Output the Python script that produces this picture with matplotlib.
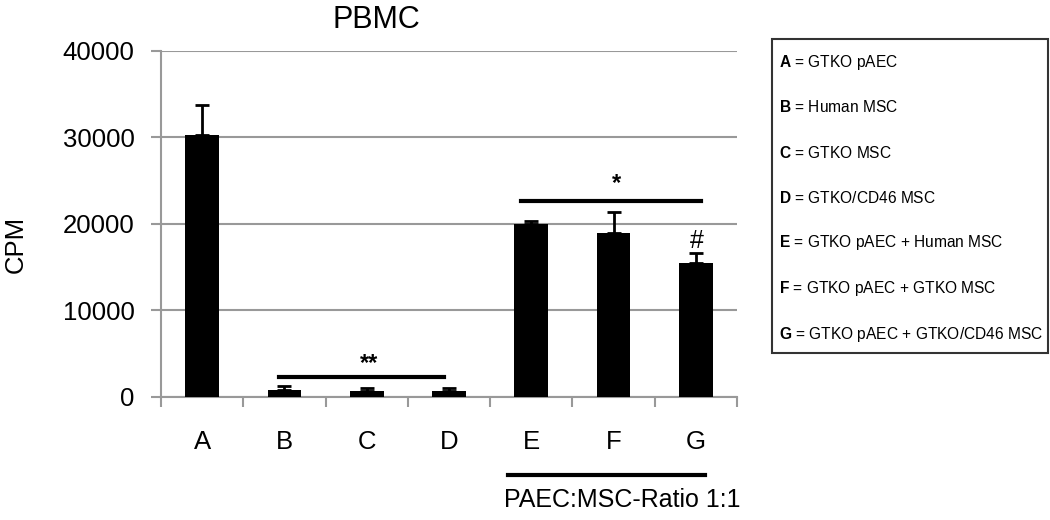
import matplotlib.pyplot as plt
from matplotlib.patches import Rectangle

plt.rcParams['font.family'] = ['Liberation Sans', 'DejaVu Sans']
plt.rcParams['mathtext.fontset'] = 'custom'
plt.rcParams['mathtext.rm'] = 'Liberation Sans'
plt.rcParams['mathtext.bf'] = 'Liberation Sans:bold'

# bar data (CPM)
groups = ['A', 'B', 'C', 'D', 'E', 'F', 'G']
cpm = [30300, 750, 680, 650, 20000, 18900, 15400]
cpm_err = [3400, 500, 350, 300, 350, 2450, 1200]

legend_keys = ['A', 'B', 'C', 'D', 'E', 'F', 'G']
legend_text = ['= GTKO pAEC', '= Human MSC', '= GTKO MSC', '= GTKO/CD46 MSC',
               '= GTKO pAEC + Human MSC', '= GTKO pAEC + GTKO MSC',
               '= GTKO pAEC + GTKO/CD46 MSC']

yticks = [0, 10000, 20000, 30000, 40000]

fig = plt.figure(figsize=(10.5, 5.2), dpi=100)
ax = fig.add_axes([161 / 1050, 123.5 / 520, 576 / 1050, 345.8 / 520])

x = list(range(len(groups)))
ax.bar(x, cpm, width=0.41, color='black', zorder=3)
ax.errorbar(x, cpm, yerr=[[0] * len(cpm), cpm_err], fmt='none', ecolor='black',
            elinewidth=2, capsize=5, capthick=2, zorder=3)

ax.set_xlim(-0.5, len(groups) - 0.5)
ax.set_ylim(0, 40000)
ax.set_yticks(yticks)
ax.set_yticklabels([str(v) for v in yticks], fontsize=18.5)
ax.set_xticks(x)
ax.set_xticklabels(groups, fontsize=18.5)
ax.set_xticks([i - 0.5 for i in range(len(groups) + 1)], minor=True)
ax.tick_params(axis='x', which='major', length=0, pad=24)
ax.tick_params(axis='x', which='minor', length=7, color='#999999', width=1.5, direction='out')
ax.tick_params(axis='y', length=7, color='#999999', width=1.5, pad=12)

ax.grid(axis='y', color='#999999', linewidth=1.5, zorder=0)
for side in ['top', 'right']:
    ax.spines[side].set_visible(False)
for side in ['left', 'bottom']:
    ax.spines[side].set_color('#999999')
    ax.spines[side].set_linewidth(1.5)

ax.set_ylabel('CPM', fontsize=18.5)
ax.yaxis.set_label_coords(-0.232, 0.44)

# significance marks
ax.plot([0.93, 2.94], [2220, 2220], color='black', lw=3, zorder=4)
ax.text(2.03, 3800, '**', ha='center', va='center', fontsize=17, fontweight='bold')
ax.plot([3.87, 6.06], [22600, 22600], color='black', lw=3, zorder=4)
ax.text(5.04, 24600, '*', ha='center', va='center', fontsize=17, fontweight='bold')
ax.text(6.01, 18000, '#', ha='center', va='center', fontsize=18)

# group bracket below axis
ax.plot([3.72, 6.11], [-0.227, -0.227], color='black', lw=3,
        transform=ax.get_xaxis_transform(), clip_on=False)
ax.text(5.11, -0.30, 'PAEC:MSC-Ratio 1:1', ha='center', va='center', fontsize=18,
        transform=ax.get_xaxis_transform())

fig.text(376 / 1050, 1 - 20 / 520, 'PBMC', ha='center', va='center', fontsize=22)

# legend box
fig.patches.append(Rectangle((772 / 1050, 1 - 353 / 520), 276 / 1050, 314 / 520,
                             transform=fig.transFigure, fill=False,
                             edgecolor='#333333', lw=1.5))
row_y = [62, 107, 153, 198, 243, 289, 335]
for key, txt, yy in zip(legend_keys, legend_text, row_y):
    fig.text(779 / 1050, 1 - yy / 520, r'$\mathbf{' + key + '}$ ' + txt,
             ha='left', va='center', fontsize=11.2)

fig.savefig('out.png', dpi=100)
